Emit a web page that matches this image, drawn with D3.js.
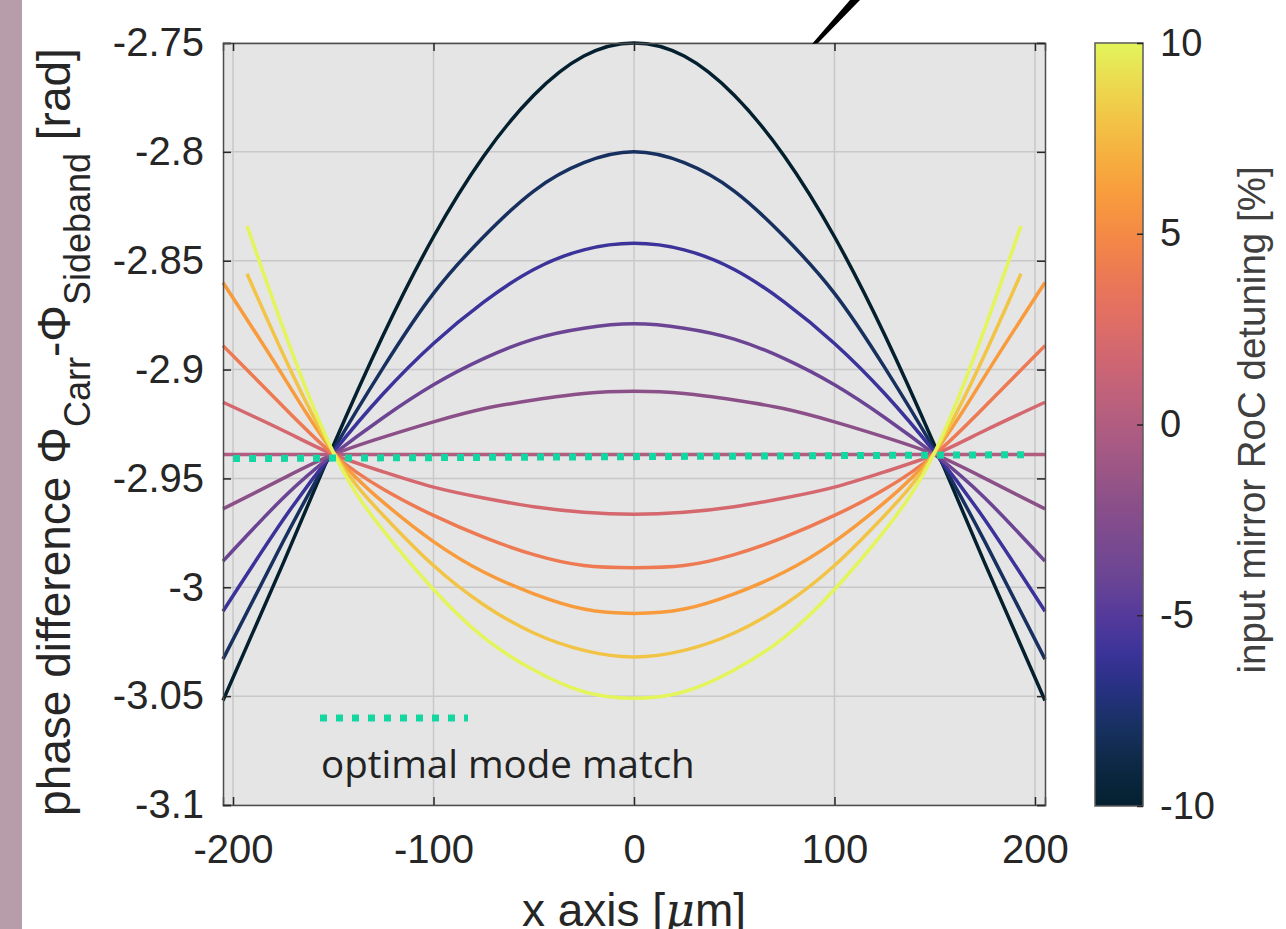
<!DOCTYPE html>
<html>
<head>
<meta charset="utf-8">
<script src="https://cdn.jsdelivr.net/npm/d3@7"></script>
<style>
  body { margin: 0; background: #fff; }
  svg { display: block; font-family: "Liberation Sans", Arial, sans-serif; }
</style>
</head>
<body>
<svg id="chart" width="1286" height="929"></svg>
<script>
// values (x in um, phase in rad)
const detuning = [-10, -8, -6, -4, -2, 0, 2, 4, 6, 8, 10];
const xFull  = [-205, -175, -150, -125, -100, -75, -50, -25, 0, 25, 50, 75, 100, 125, 150, 175, 205];
const xShort = [-193, -175, -150, -125, -100, -75, -50, -25, 0, 25, 50, 75, 100, 125, 150, 175, 193];

const phaseM10 = [-3.052, -2.989, -2.935, -2.884, -2.839, -2.802, -2.774, -2.756, -2.750, -2.756, -2.774, -2.802, -2.839, -2.884, -2.935, -2.989, -3.052];
const phaseM8  = [-3.033, -2.979, -2.937, -2.899, -2.865, -2.839, -2.818, -2.805, -2.800, -2.805, -2.818, -2.839, -2.865, -2.899, -2.937, -2.979, -3.033];
const phaseM6  = [-3.011, -2.969, -2.938, -2.911, -2.888, -2.869, -2.854, -2.845, -2.842, -2.845, -2.854, -2.869, -2.888, -2.911, -2.938, -2.969, -3.011];
const phaseM4  = [-2.988, -2.959, -2.939, -2.922, -2.907, -2.895, -2.886, -2.881, -2.879, -2.881, -2.886, -2.895, -2.907, -2.922, -2.939, -2.959, -2.988];
const phaseM2  = [-2.964, -2.950, -2.939, -2.931, -2.924, -2.918, -2.914, -2.911, -2.910, -2.911, -2.914, -2.918, -2.924, -2.931, -2.939, -2.950, -2.964];
const phase0   = [-2.939, -2.939, -2.939, -2.939, -2.939, -2.939, -2.939, -2.939, -2.939, -2.939, -2.939, -2.939, -2.939, -2.939, -2.939, -2.939, -2.939];
const phaseP2  = [-2.915, -2.928, -2.939, -2.947, -2.954, -2.959, -2.963, -2.9655, -2.9664, -2.9655, -2.963, -2.959, -2.954, -2.947, -2.939, -2.928, -2.915];
const phaseP4  = [-2.889, -2.917, -2.939, -2.955, -2.967, -2.977, -2.985, -2.990, -2.991, -2.990, -2.985, -2.977, -2.967, -2.955, -2.939, -2.917, -2.889];
const phaseP6  = [-2.860, -2.903, -2.938, -2.961, -2.979, -2.993, -3.003, -3.010, -3.012, -3.010, -3.003, -2.993, -2.979, -2.961, -2.938, -2.903, -2.860];
const phaseP8  = [-2.856, -2.893, -2.938, -2.967, -2.990, -3.008, -3.021, -3.029, -3.032, -3.029, -3.021, -3.008, -2.990, -2.967, -2.938, -2.893, -2.856];
const phaseP10 = [-2.834, -2.881, -2.938, -2.974, -3.001, -3.023, -3.038, -3.048, -3.051, -3.048, -3.038, -3.023, -3.001, -2.974, -2.938, -2.881, -2.834];

const xTicks = [-200, -100, 0, 100, 200];
const yTicks = [-2.75, -2.8, -2.85, -2.9, -2.95, -3, -3.05, -3.1];
const cbTicks = [-10, -5, 0, 5, 10];

// dotted "optimal mode match" line
const optimalX = [-200, 195];
const optimalY = [-2.9409, -2.9391];

const curves = [
  { d: detuning[0],  x: xFull,  y: phaseM10 },
  { d: detuning[1],  x: xFull,  y: phaseM8 },
  { d: detuning[2],  x: xFull,  y: phaseM6 },
  { d: detuning[3],  x: xFull,  y: phaseM4 },
  { d: detuning[4],  x: xFull,  y: phaseM2 },
  { d: detuning[5],  x: xFull,  y: phase0 },
  { d: detuning[6],  x: xFull,  y: phaseP2 },
  { d: detuning[7],  x: xFull,  y: phaseP4 },
  { d: detuning[8],  x: xFull,  y: phaseP6 },
  { d: detuning[9],  x: xShort, y: phaseP8 },
  { d: detuning[10], x: xShort, y: phaseP10 }
];

// thermal-like colormap
const cmapStops = ['#04202f', '#0c2843', '#17305f', '#25317f', '#3b3399', '#553a9b', '#6b4594',
  '#7b4a8f', '#8c5089', '#9f5785', '#b15d80', '#c36279', '#d4686e', '#e37061', '#ed7a52',
  '#f48a45', '#f89b3d', '#f6af3f', '#f2c446', '#ebdb50', '#e3f55a'];
const color = d3.scaleLinear()
  .domain(d3.range(-10, 10.01, 1))
  .range(cmapStops);

const svg = d3.select('#chart');
const margin = { left: 223, right: 1045, top: 43, bottom: 805 };
const textColor = '#262626';

// slide strip on the left
svg.append('rect').attr('x', 0).attr('y', 0).attr('width', 22).attr('height', 929).attr('fill', '#b79ca9');

const x = d3.scaleLinear().domain([-205, 205]).range([margin.left, margin.right]);
const y = d3.scaleLinear().domain([-3.1, -2.75]).range([margin.bottom, margin.top]);

// plot background
svg.append('rect')
  .attr('x', margin.left).attr('y', margin.top)
  .attr('width', margin.right - margin.left).attr('height', margin.bottom - margin.top)
  .attr('fill', '#e5e5e5');

// grid
const grid = svg.append('g').attr('stroke', '#c8c8c8').attr('stroke-width', 1.5);
grid.selectAll('.gx').data(xTicks).enter().append('line')
  .attr('x1', d => x(d)).attr('x2', d => x(d))
  .attr('y1', margin.top).attr('y2', margin.bottom);
grid.selectAll('.gy').data(yTicks).enter().append('line')
  .attr('x1', margin.left).attr('x2', margin.right)
  .attr('y1', d => y(d)).attr('y2', d => y(d));

// curves
const line = d3.line()
  .x(d => x(d[0]))
  .y(d => y(d[1]))
  .curve(d3.curveNatural);

svg.append('g').selectAll('path')
  .data(curves).enter().append('path')
  .attr('d', c => line(c.x.map((v, i) => [v, c.y[i]])))
  .attr('fill', 'none')
  .attr('stroke', c => color(c.d))
  .attr('stroke-width', 3.5)
  .attr('stroke-linecap', 'butt');

// optimal mode match dotted line
const mint = '#14d6a2';
svg.append('line')
  .attr('x1', x(optimalX[0])).attr('y1', y(optimalY[0]))
  .attr('x2', x(optimalX[1])).attr('y2', y(optimalY[1]))
  .attr('stroke', mint).attr('stroke-width', 7)
  .attr('stroke-dasharray', '7 9');

// axes (ticks inside, box on)
const axisG = svg.append('g');
axisG.append('g')
  .attr('transform', `translate(0,${margin.bottom})`)
  .call(d3.axisBottom(x).tickValues(xTicks).tickSize(-8).tickPadding(30).tickFormat(d => String(d)));
axisG.append('g')
  .attr('transform', `translate(${margin.left},0)`)
  .call(d3.axisLeft(y).tickValues(yTicks).tickSize(-8).tickPadding(19).tickFormat(d => String(d)));
axisG.append('g')
  .attr('transform', `translate(0,${margin.top})`)
  .call(d3.axisTop(x).tickValues(xTicks).tickSize(-8).tickFormat(''));
axisG.append('g')
  .attr('transform', `translate(${margin.right},0)`)
  .call(d3.axisRight(y).tickValues(yTicks).tickSize(-8).tickFormat(''));
axisG.selectAll('.domain').attr('stroke', '#4d4d4d').attr('stroke-width', 1.5);
axisG.selectAll('.tick line').attr('stroke', textColor).attr('stroke-width', 1.5);
axisG.selectAll('.tick text')
  .attr('fill', textColor)
  .style('font-size', '40px')
  .style('font-family', '"Liberation Sans", Arial, sans-serif');

// x title (cut by the bottom edge in the source too)
const xt = svg.append('text')
  .attr('x', 634).attr('y', 926)
  .attr('text-anchor', 'middle')
  .attr('fill', textColor)
  .style('font-size', '46px');
xt.append('tspan').text('x axis [');
xt.append('tspan').style('font-style', 'italic').style('font-family', '"DejaVu Serif", serif').text('μ');
xt.append('tspan').text('m]');

// y title with subscripts
const yt = svg.append('text')
  .attr('transform', 'translate(70,432) rotate(-90)')
  .attr('text-anchor', 'middle')
  .attr('fill', textColor)
  .style('font-size', '46px');
yt.append('tspan').text('phase difference Φ');
yt.append('tspan').attr('dy', 20).style('font-size', '36px').text('Carr');
yt.append('tspan').attr('dy', -20).text('-Φ');
yt.append('tspan').attr('dy', 20).style('font-size', '36px').text('Sideband');
yt.append('tspan').attr('dy', -20).text(' [rad]');

// legend
svg.append('line')
  .attr('x1', 320).attr('x2', 468).attr('y1', 718).attr('y2', 718)
  .attr('stroke', mint).attr('stroke-width', 7)
  .attr('stroke-dasharray', '7 9');
svg.append('text')
  .attr('x', 321).attr('y', 778)
  .attr('fill', '#222')
  .style('font-family', '"Open Sans", "Noto Sans", sans-serif')
  .style('font-size', '38.5px')
  .text('optimal mode match');

// colorbar
const cb = { x: 1095, w: 48 };
const cbScale = d3.scaleLinear().domain([-10, 10]).range([806, 43]);
const defs = svg.append('defs');
const grad = defs.append('linearGradient').attr('id', 'cbgrad')
  .attr('x1', 0).attr('y1', 1).attr('x2', 0).attr('y2', 0);
grad.selectAll('stop').data(d3.range(-10, 10.01, 0.5)).enter().append('stop')
  .attr('offset', d => (d + 10) / 20)
  .attr('stop-color', d => color(d));
svg.append('rect')
  .attr('x', cb.x).attr('y', cbScale(10))
  .attr('width', cb.w).attr('height', cbScale(-10) - cbScale(10))
  .attr('fill', 'url(#cbgrad)')
  .attr('stroke', '#5a5a5a').attr('stroke-width', 1.5);
const cbAxis = svg.append('g')
  .attr('transform', `translate(${cb.x + cb.w},0)`)
  .call(d3.axisRight(cbScale).tickValues(cbTicks).tickSize(-6).tickPadding(17).tickFormat(d => String(d)));
cbAxis.select('.domain').remove();
cbAxis.selectAll('.tick line').attr('stroke', textColor).attr('stroke-width', 1.5);
cbAxis.selectAll('.tick text')
  .attr('fill', textColor)
  .style('font-size', '38px')
  .style('font-family', '"Liberation Sans", Arial, sans-serif');

svg.append('text')
  .attr('transform', 'translate(1265,420) rotate(-90)')
  .attr('text-anchor', 'middle')
  .attr('fill', '#404040')
  .style('font-size', '38.5px')
  .text('input mirror RoC detuning [%]');

// pen stroke above the axes
svg.append('path')
  .attr('d', 'M812,44 L818,43 L860,0 L850,0 Z')
  .attr('fill', '#000');
</script>
</body>
</html>
